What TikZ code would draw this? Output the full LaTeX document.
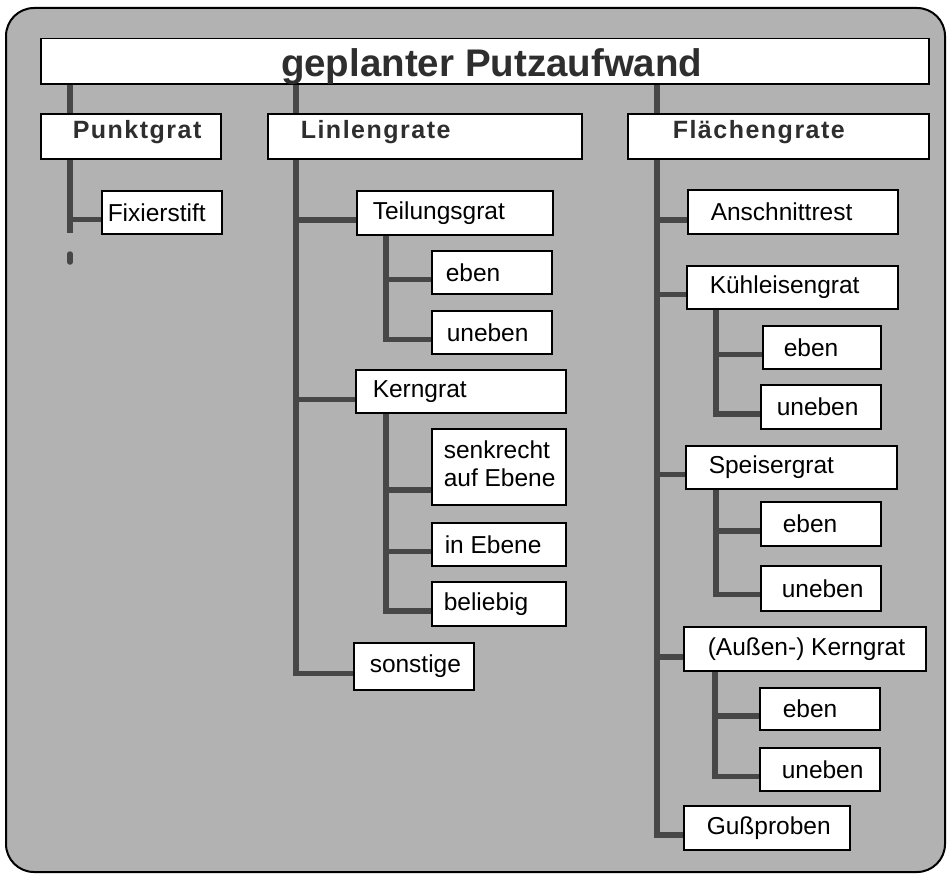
\documentclass[tikz,border=0pt]{standalone}
\usepackage{fontspec}
\setmainfont{Liberation Sans}
\usetikzlibrary{calc}
\definecolor{screen}{HTML}{B2B2B2}
\definecolor{wirecol}{HTML}{474747}
\definecolor{headink}{HTML}{2E2E2E}
\pgfdeclarelayer{back}
\pgfdeclarelayer{wires}
\pgfsetlayers{back,wires,main}
% left-set label of a given width inside a box
\newcommand\padtxt[2]{\makebox[#1pt][l]{#2}}
\newcommand\headtxt[2]{\raisebox{4pt}[\height][\depth]{\makebox[#1pt][l]{#2}}}
\tikzset{
  box/.style={draw=black, line width=1.5pt, fill=white, anchor=north west,
    inner ysep=0pt, font=\fontsize{24.5}{28}\selectfont},
  headbox/.style={box, text=headink,
    font=\fontsize{25}{28}\selectfont\bfseries\addfontfeature{LetterSpace=6}},
  wire/.style={draw=wirecol, line width=5.5pt},
}
\begin{document}
\begin{tikzpicture}[x=1pt, y=-1pt]
\useasboundingbox (0,0) rectangle (947,875);

% backdrop
\begin{pgfonlayer}{back}
  \path[draw=black, line width=2pt, fill=screen, rounded corners=28pt]
    (6,8) rectangle (945,872);
\end{pgfonlayer}

% title
\node[box, minimum width=888pt, minimum height=45pt, text=headink,
  font=\fontsize{38.5}{40}\selectfont\bfseries] (title) at (40,38)
  {\hspace*{14pt}\raisebox{-5pt}[\height][\depth]{geplanter Putzaufwand}};

% main groups
\node[headbox, minimum height=45pt, inner xsep=32pt] (punkt) at (40,113) {\headtxt{116}{Punktgrat}};
\node[headbox, minimum height=45pt, inner xsep=33pt] (linie) at (267,113) {\headtxt{248}{Linlengrate}};
\node[headbox, minimum height=45pt, inner xsep=45pt] (flaeche) at (627,113) {\headtxt{211}{Flächengrate}};

% Punktgrat
\node[box, minimum height=43pt, inner xsep=6pt] (fix) at (101,190) {\padtxt{108}{Fixierstift}};

% Liniengrate
\node[box, minimum height=44pt, inner xsep=16pt] (teil) at (356,190) {\padtxt{164}{Teilungsgrat}};
\node[box, minimum height=43pt, inner xsep=14pt] (teilE) at (431,250) {\padtxt{92}{eben}};
\node[box, minimum height=43pt, inner xsep=15pt] (teilU) at (431,310) {\padtxt{90}{uneben}};
\node[box, minimum height=43pt, inner xsep=17pt] (kern) at (355,369) {\padtxt{176}{Kerngrat}};
\node[box, minimum height=76pt, inner xsep=12pt] (kernS) at (431,428)
  {\padtxt{110}{\begin{tabular}{@{}l@{}}senkrecht\\auf Ebene\end{tabular}}};
\node[box, minimum height=43pt, inner xsep=13pt] (kernI) at (431,522) {\padtxt{108}{in Ebene}};
\node[box, minimum height=44pt, inner xsep=12pt] (kernB) at (431,581) {\padtxt{110}{beliebig}};
\node[box, minimum height=47pt, inner xsep=16pt] (sonst) at (353,642) {\padtxt{88}{sonstige}};

% Flaechengrate
\node[box, minimum height=44pt, inner xsep=23pt] (ansch) at (687,189) {\padtxt{164}{Anschnittrest}};
\node[box, minimum height=43pt, inner xsep=23pt] (kuehl) at (686,265) {\padtxt{165}{Kühleisengrat}};
\node[box, minimum height=43pt, inner xsep=21pt] (kuehlE) at (762,325) {\padtxt{76}{eben}};
\node[box, minimum height=44pt, inner xsep=16pt] (kuehlU) at (760,384) {\padtxt{88}{uneben}};
\node[box, minimum height=43pt, inner xsep=23pt] (speis) at (685,445) {\padtxt{165}{Speisergrat}};
\node[box, minimum height=44pt, inner xsep=22pt] (speisE) at (760,501) {\padtxt{76}{eben}};
\node[box, minimum height=45pt, inner xsep=21pt] (speisU) at (760,565) {\padtxt{78}{uneben}};
\node[box, minimum height=44pt, inner xsep=24pt] (aussen) at (683,626) {\padtxt{194}{(Außen-) Kerngrat}};
\node[box, minimum height=42pt, inner xsep=23pt] (aussenE) at (759,687) {\padtxt{74}{eben}};
\node[box, minimum height=43pt, inner xsep=22pt] (aussenU) at (759,747) {\padtxt{76}{uneben}};
\node[box, minimum height=44pt, inner xsep=23pt] (guss) at (683,805) {\padtxt{120}{Gußproben}};

% trunk start points below each parent box
\coordinate (jP) at ($(punkt.south west)+(30,0)$);
\coordinate (jL) at ($(linie.south west)+(29,0)$);
\coordinate (jF) at ($(flaeche.south west)+(30,0)$);
\coordinate (jT) at ($(teil.south west)+(30,0)$);
\coordinate (jK) at ($(kern.south west)+(31,0)$);
\coordinate (jKu) at ($(kuehl.south west)+(30,0)$);
\coordinate (jS) at ($(speis.south west)+(31,0)$);
\coordinate (jA) at ($(aussen.south west)+(32,0)$);
\coordinate (pEnd) at (70,233);
\coordinate (pDotA) at (70,254);
\coordinate (pDotB) at (70,262);

\begin{pgfonlayer}{wires}
  % title to groups
  \draw[wire] (title.south -| jP) -- (jP |- punkt.north);
  \draw[wire] (title.south -| jL) -- (jL |- linie.north);
  \draw[wire] (title.south -| jF) -- (jF |- flaeche.north);
  % Punktgrat
  \draw[wire] (jP) |- ($(fix.west)+(0,7)$);
  \draw[wire] (jP) -- (pEnd);
  \draw[wire, line cap=round] (pDotA) -- (pDotB);
  % Liniengrate
  \draw[wire] (jL) |- ($(teil.west)+(0,7)$);
  \draw[wire] (jL) |- ($(kern.west)+(0,8)$);
  \draw[wire] (jL) |- ($(sonst.west)+(0,7)$);
  \draw[wire] (jT) |- ($(teilE.west)+(0,7)$);
  \draw[wire] (jT) |- ($(teilU.west)+(0,7)$);
  \draw[wire] (jK) |- ($(kernS.west)+(0,23)$);
  \draw[wire] (jK) |- ($(kernI.west)+(0,7)$);
  \draw[wire] (jK) |- ($(kernB.west)+(0,7)$);
  % Flaechengrate
  \draw[wire] (jF) |- ($(ansch.west)+(0,8)$);
  \draw[wire] (jF) |- ($(kuehl.west)+(0,7)$);
  \draw[wire] (jF) |- ($(speis.west)+(0,7)$);
  \draw[wire] (jF) |- ($(aussen.west)+(0,8)$);
  \draw[wire] (jF) |- ($(guss.west)+(0,7)$);
  \draw[wire] (jKu) |- ($(kuehlE.west)+(0,7)$);
  \draw[wire] (jKu) |- ($(kuehlU.west)+(0,7)$);
  \draw[wire] (jS) |- ($(speisE.west)+(0,7)$);
  \draw[wire] (jS) |- ($(speisU.west)+(0,6)$);
  \draw[wire] (jA) |- ($(aussenE.west)+(0,7)$);
  \draw[wire] (jA) |- ($(aussenU.west)+(0,7)$);
\end{pgfonlayer}
\end{tikzpicture}
\end{document}
